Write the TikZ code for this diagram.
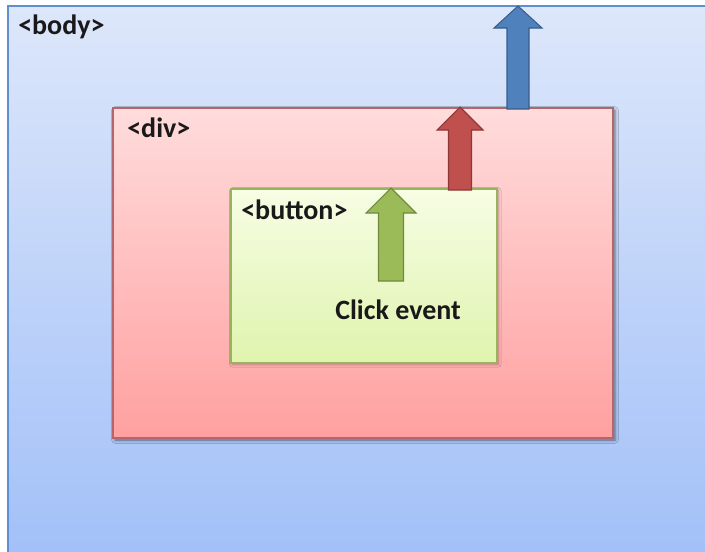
\documentclass[tikz,border=0pt]{standalone}
\usepackage{fontspec}
\setmainfont{Carlito}
\usepackage{tikz}
\usetikzlibrary{fit,shadows.blur}

\definecolor{bodytop}{HTML}{DDE7FA}
\definecolor{bodybot}{HTML}{A2C0F8}
\definecolor{bodyline}{HTML}{5F8ED2}
\definecolor{divtop}{HTML}{FFDCDC}
\definecolor{divbot}{HTML}{FFA0A0}
\definecolor{divline}{HTML}{B5666C}
\definecolor{btntop}{HTML}{F6FDE4}
\definecolor{btnbot}{HTML}{E0F4AE}
\definecolor{btnline}{HTML}{9AB25E}
\definecolor{bluefill}{RGB}{79,129,189}
\definecolor{blueline}{RGB}{56,93,138}
\definecolor{redfill}{RGB}{192,80,77}
\definecolor{redline}{RGB}{140,56,54}
\definecolor{greenfill}{RGB}{155,187,89}
\definecolor{greenline}{RGB}{113,137,63}

\begin{document}
\begin{tikzpicture}[
  x=0.75pt, y=-0.75pt,
  every node/.style={font=\fontsize{21}{25}\selectfont\bfseries},
  box/.style={rectangle, inner sep=0pt, line width=0.9pt},
  bodybox/.style={box, draw=bodyline, top color=bodytop, bottom color=bodybot},
  divbox/.style={box, draw=divline, top color=divtop, bottom color=divbot,
    blur shadow={shadow xshift=1.5pt, shadow yshift=-1.5pt, shadow blur radius=2.5pt, shadow opacity=50}},
  btnbox/.style={box, draw=btnline, top color=btntop, bottom color=btnbot,
    blur shadow={shadow xshift=1pt, shadow yshift=-1pt, shadow blur radius=2pt, shadow opacity=30}},
  tag/.style={anchor=base west, inner sep=0pt, text=black!90},
  bluearr/.style={fill=bluefill, draw=blueline, line width=0.8pt},
  redarr/.style={fill=redfill, draw=redline, line width=0.8pt},
  greenarr/.style={fill=greenfill, draw=greenline, line width=0.8pt},
]
\useasboundingbox (0,0) rectangle (705,551);
% #1 style, #2 centre x, #3 tip y, #4 head base y, #5 foot y, #6 head half width, #7 shaft half width
\newcommand{\uparr}[7]{%
  \draw[#1] (#2,#3) -- (#2+#6,#4) -- (#2+#7,#4) -- (#2+#7,#5)
    -- (#2-#7,#5) -- (#2-#7,#4) -- (#2-#6,#4) -- cycle;}
% ---------------- boxes ----------------
\node[bodybox, fit={(8,6) (709,555)}] (body) {};
\node[divbox, fit={(113,108) (613,438)}] (div) {};
\node[btnbox, fit={(231,189) (497,363)}] (btn) {};
% ---------------- tags ----------------
\node[tag] (bodytag) at (18,34) {<body>};
\node[tag] (divtag) at (127,137) {<div>};
\node[tag] (btntag) at (241,219) {<button>};
\node[tag] (click) at (335,319) {Click event};
% ---------------- bubbling arrows ----------------
\uparr{greenarr}{391}{188}{213}{281}{25}{12.5}
\uparr{redarr}{460}{107}{130}{190}{23}{11.5}
\uparr{bluearr}{518}{6}{28}{109}{24}{11}
\end{tikzpicture}
\end{document}
